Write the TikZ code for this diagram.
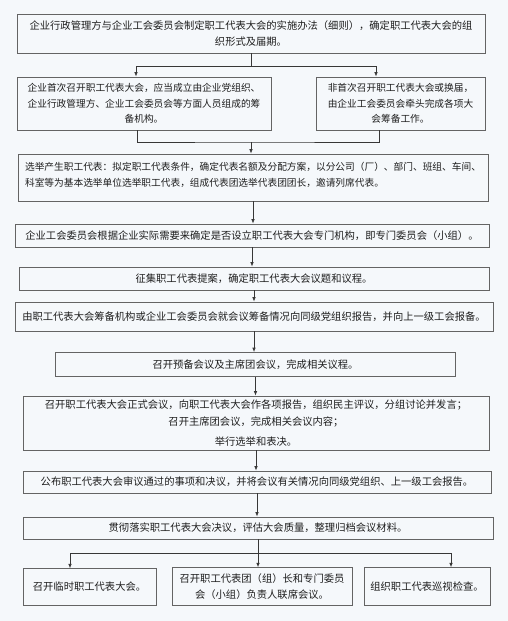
\documentclass[tikz,border=0pt]{standalone}
\usepackage{fontspec}
\usepackage{xcolor}
\usepackage{tikz}
\usetikzlibrary{arrows.meta,calc}
\newfontfamily\cjk{Noto Sans CJK SC}
\definecolor{paper}{RGB}{245,248,251}
\definecolor{edge}{RGB}{100,100,100}
\definecolor{wire}{RGB}{55,55,55}
\definecolor{ink}{RGB}{30,30,30}

\begin{document}
\begin{tikzpicture}[
    x=1pt,y=1pt,
    stage/.style={draw=edge,line width=0.8pt,inner sep=0pt,align=center,
      text=ink,font=\cjk\fontsize{10.3pt}{15.5pt}\selectfont},
    small/.style={font=\cjk\fontsize{9.7pt}{15.5pt}\selectfont},
    flow/.style={-{Latex[length=4.5pt,width=3.6pt]},line width=0.8pt,color=wire},
    link/.style={line width=0.8pt,color=wire}
  ]
    \fill[paper] (0,0) rectangle (508,-621);
    % preparation
    \node[stage,minimum width=468,minimum height=39] (rules) at (251,-33.5)
      {企业行政管理方与企业工会委员会制定职工代表大会的实施办法（细则），确定职工代表大会的组\\织形式及届期。};
    \node[stage,small,minimum width=254,minimum height=53] (first) at (144,-103.5)
      {企业首次召开职工代表大会，应当成立由企业党组织、\\企业行政管理方、企业工会委员会等方面人员组成的筹\\备机构。};
    \node[stage,small,minimum width=169,minimum height=53] (renew) at (400.5,-103.5)
      {非首次召开职工代表大会或换届，\\由企业工会委员会牵头完成各项大\\会筹备工作。};
    \node[stage,small,align=left,minimum width=470,minimum height=47] (elect) at (253,-177.5)
      {选举产生职工代表：拟定职工代表条件，确定代表名额及分配方案，以分公司（厂）、部门、班组、车间、\\科室等为基本选举单位选举职工代表，组成代表团选举代表团团长，邀请列席代表。\\[-9.5pt]\mbox{}};
    \node[stage,minimum width=474,minimum height=23] (committee) at (252,-235.5)
      {企业工会委员会根据企业实际需要来确定是否设立职工代表大会专门机构，即专门委员会（小组）。};
    \node[stage,minimum width=470,minimum height=23] (motions) at (254,-278.5)
      {征集职工代表提案，确定职工代表大会议题和议程。};
    \node[stage,minimum width=478,minimum height=29] (report) at (254,-316.5)
      {由职工代表大会筹备机构或企业工会委员会就会议筹备情况向同级党组织报告，并向上一级工会报备。};
    % meeting
    \node[stage,minimum width=400,minimum height=24] (premeet) at (255.5,-364.5)
      {召开预备会议及主席团会议，完成相关议程。};
    \node[stage,minimum width=466,minimum height=54] (session) at (256,-423)
      {召开职工代表大会正式会议，向职工代表大会作各项报告，组织民主评议，分组讨论并发言；\\[1.5pt]召开主席团会议，完成相关会议内容；\\[4.5pt]举行选举和表决。};
    \node[stage,minimum width=468,minimum height=22] (publish) at (257,-482)
      {公布职工代表大会审议通过的事项和决议，并将会议有关情况向同级党组织、上一级工会报告。};
    \node[stage,minimum width=470,minimum height=22] (follow) at (258,-528)
      {贯彻落实职工代表大会决议，评估大会质量，整理归档会议材料。};
    % between sessions
    \node[stage,minimum width=133,minimum height=36.5] (interim) at (89.5,-587)
      {召开临时职工代表大会。};
    \node[stage,minimum width=180,minimum height=38] (joint) at (262,-586.7)
      {召开职工代表团（组）长和专门委员\\会（小组）负责人联席会议。};
    \node[stage,minimum width=126,minimum height=38] (patrol) at (427,-586.7)
      {组织职工代表巡视检查。};

    \coordinate (split1) at (251,-66);
    \coordinate (merge1) at (251,-142);
    \coordinate (split2) at (258,-553);

    \draw[link] (rules.south) -- (split1);
    \draw[flow] (split1) -| ([xshift=-8pt]first.north);
    \draw[flow] (split1) -| ([xshift=-24.5pt]renew.north);
    \draw[link] ([xshift=-7pt]first.south) |- (merge1) -| ([xshift=-21.5pt]renew.south);
    \draw[flow] (merge1) -- (merge1 |- elect.north);
    \draw[flow] (elect.south) -- (elect.south |- committee.north);
    \draw[flow] (committee.south) -- (committee.south |- motions.north);
    \draw[flow] (motions.south) -- (motions.south |- report.north);
    \draw[flow] (report.south) -- (report.south |- premeet.north);
    \draw[flow] (premeet.south) -- (premeet.south |- session.north);
    \draw[flow] (session.south) -- (session.south |- publish.north);
    \draw[flow] (publish.south) -- (publish.south |- follow.north);
    \draw[link] (follow.south) -- (split2);
    \draw[flow] (split2) -| ([xshift=-19.5pt]interim.north);
    \draw[flow] (split2) -- (split2 |- joint.north);
    \draw[flow] (split2) -| ([xshift=24pt]patrol.north);
\end{tikzpicture}
\end{document}
